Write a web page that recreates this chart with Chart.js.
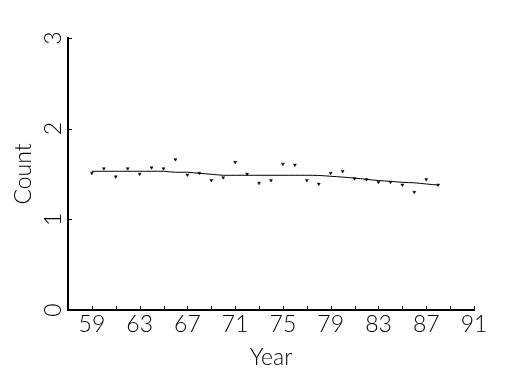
<!DOCTYPE html>
<html>
<head>
<meta charset="utf-8">
<script src="https://cdn.jsdelivr.net/npm/chart.js@4"></script>
<style>
  body { margin: 0; background: #fff; }
  #wrap { width: 525px; height: 375px; }
</style>
</head>
<body>
<div id="wrap"><canvas id="countChart" width="525" height="375"></canvas></div>
<script>
// values
const years = [59, 60, 61, 62, 63, 64, 65, 66, 67, 68, 69, 70, 71, 72, 73, 74, 75, 76, 77, 78, 79, 80, 81, 82, 83, 84, 85, 86, 87, 88];
const counts = [1.51, 1.56, 1.47, 1.56, 1.50, 1.57, 1.56, 1.66, 1.49, 1.51, 1.43, 1.46, 1.63, 1.50, 1.40, 1.43, 1.61, 1.60, 1.43, 1.39, 1.51, 1.53, 1.45, 1.44, 1.41, 1.41, 1.38, 1.30, 1.44, 1.38];
const trend = [1.530, 1.530, 1.530, 1.530, 1.530, 1.530, 1.530, 1.519, 1.519, 1.508, 1.497, 1.486, 1.486, 1.486, 1.486, 1.486, 1.486, 1.486, 1.486, 1.484, 1.475, 1.466, 1.455, 1.441, 1.428, 1.419, 1.408, 1.403, 1.390, 1.378];
const xTickValues = [59, 61, 63, 65, 67, 69, 71, 73, 75, 77, 79, 81, 83, 85, 87, 89, 91];
const xTickLabels = ['59', '63', '67', '71', '75', '79', '83', '87', '91'];
const yTickLabels = ['0', '1', '2', '3'];

const fontFamily = "'Lato', 'Liberation Sans', sans-serif";

document.addEventListener('DOMContentLoaded', function() {
    const ctx = document.getElementById('countChart').getContext('2d');

    const whiteBg = {
        id: 'whiteBg',
        beforeDraw(chart) {
            const c = chart.ctx;
            c.save();
            c.fillStyle = '#fff';
            c.fillRect(0, 0, chart.width, chart.height);
            c.restore();
        }
    };

    // tick marks point into the plot area
    const innerTicks = {
        id: 'innerTicks',
        afterDraw(chart) {
            const c = chart.ctx;
            const xs = chart.scales.x, ys = chart.scales.y;
            const area = chart.chartArea;
            c.save();
            c.strokeStyle = '#000';
            c.lineWidth = 1;
            c.beginPath();
            xs.ticks.forEach(t => {
                const px = Math.round(xs.getPixelForValue(t.value)) + 0.5;
                c.moveTo(px, area.bottom);
                c.lineTo(px, area.bottom - 4);
            });
            ys.ticks.forEach(t => {
                const py = Math.round(ys.getPixelForValue(t.value)) + 0.5;
                c.moveTo(area.left, py);
                c.lineTo(area.left + 4, py);
            });
            c.stroke();
            c.restore();
        }
    };

    new Chart(ctx, {
        type: 'scatter',
        data: {
            datasets: [
                {
                    label: 'Trend',
                    data: years.map((y, i) => ({ x: y, y: trend[i] })),
                    showLine: true,
                    borderColor: '#000',
                    borderWidth: 1,
                    pointRadius: 0,
                    tension: 0.3
                },
                {
                    label: 'Count',
                    data: years.map((y, i) => ({ x: y, y: counts[i] })),
                    pointStyle: 'triangle',
                    rotation: 180,
                    pointRadius: 1.7,
                    backgroundColor: '#000',
                    borderColor: '#000',
                    borderWidth: 0.5
                }
            ]
        },
        options: {
            responsive: false,
            animation: false,
            layout: { padding: { top: 38, right: 51, bottom: 0, left: 0 } },
            plugins: {
                legend: { display: false },
                tooltip: { enabled: false }
            },
            scales: {
                x: {
                    type: 'linear',
                    min: 57,
                    max: 91,
                    afterFit: s => { s.height = 65; },
                    afterBuildTicks: s => { s.ticks = xTickValues.map(v => ({ value: v })); },
                    border: { display: true, color: '#000', width: 2 },
                    grid: { display: true, drawOnChartArea: false, drawTicks: false },
                    ticks: {
                        color: '#000',
                        padding: 1,
                        maxRotation: 0,
                        autoSkip: false,
                        font: { family: fontFamily, size: 23, weight: '300' },
                        callback: v => xTickLabels.includes(String(v)) ? String(v) : ''
                    },
                    title: {
                        display: true,
                        text: 'Year',
                        color: '#000',
                        padding: { top: 0, bottom: 4 },
                        font: { family: fontFamily, size: 23, weight: '300' }
                    }
                },
                y: {
                    min: 0,
                    max: 3,
                    afterFit: s => { s.width = 68; },
                    border: { display: true, color: '#000', width: 2 },
                    grid: { display: true, drawOnChartArea: false, drawTicks: false },
                    ticks: {
                        stepSize: 1,
                        color: '#000',
                        padding: 8,
                        minRotation: 90,
                        maxRotation: 90,
                        crossAlign: 'center',
                        font: { family: fontFamily, size: 23, weight: '300' },
                        callback: v => yTickLabels[v]
                    },
                    title: {
                        display: true,
                        text: 'Count',
                        color: '#000',
                        padding: { top: 10, bottom: 0 },
                        font: { family: fontFamily, size: 23, weight: '300' }
                    }
                }
            }
        },
        plugins: [whiteBg, innerTicks]
    });
});
</script>
</body>
</html>
